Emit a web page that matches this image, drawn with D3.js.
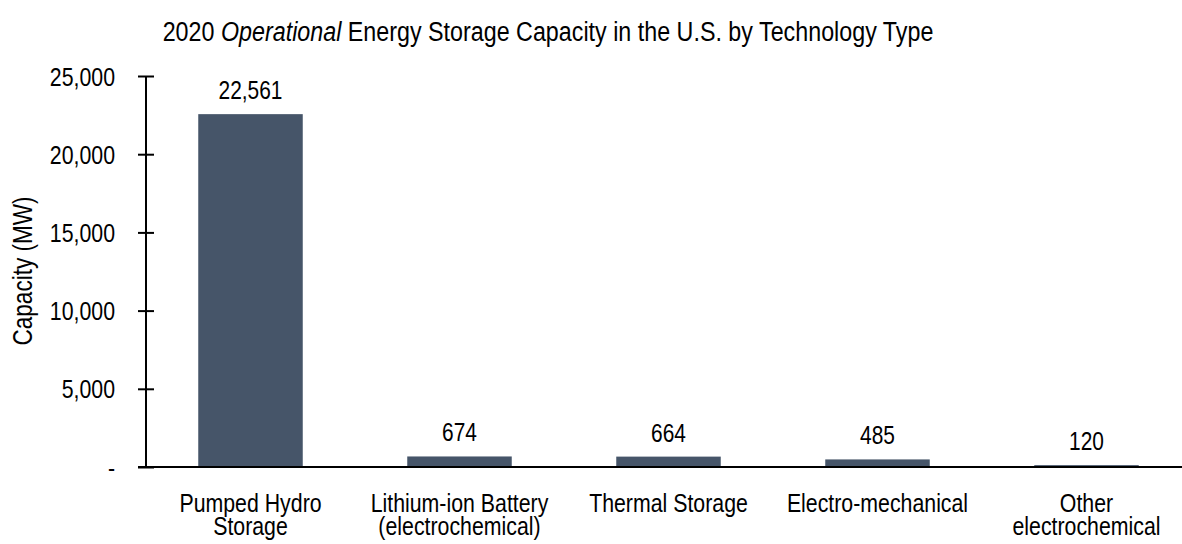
<!DOCTYPE html>
<html>
<head>
<meta charset="utf-8">
<script src="https://cdn.jsdelivr.net/npm/d3@7"></script>
<style>
html,body{margin:0;padding:0;background:#fff;}
svg text{fill:#000;}
</style>
</head>
<body>
<svg id="chart" width="1182" height="544"></svg>
<script>
const categories = [["Pumped Hydro","Storage"],["Lithium-ion Battery","(electrochemical)"],["Thermal Storage"],["Electro-mechanical"],["Other","electrochemical"]];
const values = [22561, 674, 664, 485, 120];
const yTicks = [0, 5000, 10000, 15000, 20000, 25000];
const yTickLabels = ["-", "5,000", "10,000", "15,000", "20,000", "25,000"];

// detect narrow font availability
const cv = document.createElement("canvas").getContext("2d");
cv.font = "26px 'Liberation Sans Narrow', monospace";
const wN = cv.measureText("Thermal Storage 22,561").width;
cv.font = "26px 'Liberation Sans', monospace";
const wR = cv.measureText("Thermal Storage 22,561").width;
const hasNarrow = Math.abs(wN / wR - 0.82) < 0.05;
const FONT = hasNarrow ? "'Liberation Sans Narrow'" : "'Liberation Sans', Arial, sans-serif";
const SX = hasNarrow ? 1 : 0.82;

const svg = d3.select("#chart");
const x = d3.scaleBand().domain(d3.range(values.length)).range([146, 1191]).paddingInner(0.5).paddingOuter(0.25);
const y = d3.scaleLinear().domain([0, 25000]).range([467, 76]);

function place(sel, px, py) {
  return sel.attr("transform", `translate(${px},${py}) scale(${SX},1)`).attr("x", 0).attr("y", 0);
}

// title
const title = place(svg.append("text"), 548, 41).attr("text-anchor", "middle")
  .style("font-family", FONT).style("font-size", "28.4px");
title.append("tspan").text("2020 ");
title.append("tspan").style("font-style", "italic").text("Operational");
title.append("tspan").text(" Energy Storage Capacity in the U.S. by Technology Type");

// bars
svg.selectAll("rect.bar").data(values).join("rect").attr("class", "bar")
  .attr("x", (d, i) => x(i)).attr("width", x.bandwidth())
  .attr("y", d => y(d)).attr("height", d => y(0) - y(d))
  .attr("fill", "#465569");

// value labels
svg.selectAll("text.val").data(values).join("text").attr("class", "val")
  .each(function(d, i) { place(d3.select(this), x(i) + x.bandwidth() / 2, y(d) - 15); })
  .attr("text-anchor", "middle").style("font-family", FONT).style("font-size", "25.5px")
  .text(d => d3.format(",")(d));

// y axis
const yAxis = d3.axisLeft(y).tickValues(yTicks).tickFormat((d, i) => yTickLabels[i]).tickSize(8).tickPadding(23);
const gy = svg.append("g").attr("transform", "translate(146,0)").call(yAxis);
gy.select(".domain").remove();
gy.selectAll(".tick line").attr("x1", 8).attr("stroke", "#000").attr("stroke-width", 2);
gy.selectAll(".tick text").style("font-family", FONT).style("font-size", "26px")
  .attr("dy", "0.35em").attr("x", 0)
  .attr("transform", `translate(-31,0) scale(${SX},1)`);
gy.append("line").attr("x1", 0).attr("x2", 0).attr("y1", y(25000)).attr("y2", y(0)).attr("stroke", "#000").attr("stroke-width", 2);

// x axis line
svg.append("line").attr("x1", 138).attr("x2", 1182).attr("y1", y(0)).attr("y2", y(0)).attr("stroke", "#000").attr("stroke-width", 2);

// category labels (one text per category, lines as tspans)
categories.forEach((lines, i) => {
  const t = place(svg.append("text"), x(i) + x.bandwidth() / 2, 0)
    .attr("text-anchor", "middle").style("font-family", FONT).style("font-size", "26px");
  lines.forEach((ln, j) => {
    t.append("tspan").attr("x", 0).attr("y", 512 + j * 23).text(ln);
  });
});

// y axis title
svg.append("text").attr("transform", `translate(32,271) rotate(-90) scale(${SX},1)`).attr("text-anchor", "middle")
  .style("font-family", FONT).style("font-size", "27.5px").text("Capacity (MW)");
</script>
</body>
</html>
